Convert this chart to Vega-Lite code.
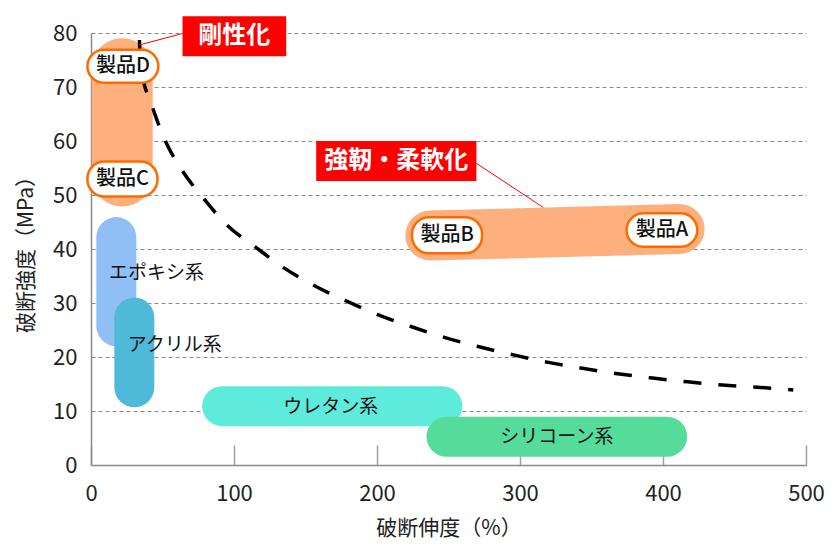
{
  "$schema": "https://vega.github.io/schema/vega-lite/v6.json",
  "width": 715,
  "height": 432,
  "autosize": {"type": "none"},
  "padding": {"left": 91, "top": 33, "right": 34, "bottom": 95},
  "background": "white",
  "config": {
    "view": {"stroke": null},
    "font": "Noto Sans CJK JP",
    "axis": {"labelFont": "Noto Sans CJK JP", "titleFont": "Noto Sans CJK JP"}
  },
  "datasets": {
    "bands": [
      {"name": "エポキシ系", "x": 17.7, "x2": 17.7, "y": 42.2, "y2": 25.7},
      {"name": "アクリル系", "x": 30.3, "x2": 30.3, "y": 27.3, "y2": 14.4},
      {"name": "ウレタン系", "x": 91.7, "x2": 245.7, "y": 10.9, "y2": 10.9},
      {"name": "シリコーン系", "x": 248.6, "x2": 402.9, "y": 5.24, "y2": 5.24},
      {"name": "製品C-D", "x": 21.8, "x2": 21.8, "y": 73.4, "y2": 53.5},
      {"name": "製品A-B", "x": 237.3, "x2": 411.6, "y": 42.5, "y2": 43.7}
    ],
    "curve": [
      {"x": 33.9, "y": 78.7}, {"x": 34.0, "y": 77.4}, {"x": 36.5, "y": 71.5},
      {"x": 41.4, "y": 67.6}, {"x": 44.9, "y": 64.8}, {"x": 52.2, "y": 59.9},
      {"x": 64.1, "y": 54.4}, {"x": 78.9, "y": 49.3}, {"x": 95.2, "y": 44.4},
      {"x": 114.8, "y": 40.4}, {"x": 134.9, "y": 36.5}, {"x": 156.3, "y": 33.2},
      {"x": 178.4, "y": 30.4}, {"x": 200.9, "y": 27.8}, {"x": 224.2, "y": 25.6},
      {"x": 247.6, "y": 23.6}, {"x": 271.4, "y": 21.9}, {"x": 295.3, "y": 20.4},
      {"x": 319.8, "y": 19.0}, {"x": 343.7, "y": 17.9}, {"x": 368.2, "y": 16.9},
      {"x": 392.7, "y": 16.1}, {"x": 417.2, "y": 15.4}, {"x": 441.6, "y": 14.8},
      {"x": 466.1, "y": 14.4}, {"x": 491.1, "y": 13.9}
    ],
    "connectors": [
      {"x": 34.0, "y": 77.8, "x2": 64.0, "y2": 79.9},
      {"x": 269.3, "y": 55.9, "x2": 316.2, "y2": 47.7}
    ],
    "callouts": [
      {"label": "剛性化", "x": 64.0, "x2": 136.5, "y": 83.1, "y2": 75.7, "cx": 100.2, "cy": 79.4},
      {"label": "強靭・柔軟化", "x": 157.5, "x2": 269.5, "y": 60.0, "y2": 52.6, "cx": 213.5, "cy": 56.3}
    ],
    "products": [
      {"label": "製品D", "x": -2.5, "x2": 47.1, "y": 76.9, "y2": 70.8, "cx": 22.3, "cy": 73.85},
      {"label": "製品C", "x": -2.5, "x2": 46.5, "y": 56.2, "y2": 49.7, "cx": 22.0, "cy": 52.95},
      {"label": "製品B", "x": 224.5, "x2": 273.5, "y": 45.9, "y2": 39.2, "cx": 249.0, "cy": 42.55},
      {"label": "製品A", "x": 374.5, "x2": 424.0, "y": 46.6, "y2": 40.4, "cx": 399.2, "cy": 43.5}
    ],
    "groups": [
      {"label": "エポキシ系", "x": 45.8, "y": 35.6},
      {"label": "アクリル系", "x": 58.6, "y": 22.2},
      {"label": "ウレタン系", "x": 167.7, "y": 10.8},
      {"label": "シリコーン系", "x": 325.8, "y": 5.24}
    ]
  },
  "encoding": {
    "x": {
      "field": "x", "type": "quantitative",
      "scale": {"domain": [0, 500], "nice": false, "zero": false},
      "axis": {
        "values": [0, 100, 200, 300, 400, 500],
        "title": "破断伸度（%）",
        "grid": false,
        "labelFlush": false,
        "domainColor": "#8a8a8a", "domainWidth": 1.5,
        "tickColor": "#a0a0a0", "tickWidth": 1.5, "tickSize": -20,
        "labelPadding": 38, "labelFontSize": 22, "labelColor": "#222",
        "titleFontSize": 21, "titleFontWeight": "normal", "titleColor": "#222",
        "titlePadding": 13
      }
    },
    "y": {
      "field": "y", "type": "quantitative",
      "scale": {"domain": [0, 80], "nice": false, "zero": false},
      "axis": {
        "values": [0, 10, 20, 30, 40, 50, 60, 70, 80],
        "title": "破断強度（MPa）",
        "grid": true, "gridDash": [4, 3], "gridColor": "#8a8a8a", "gridWidth": 1,
        "ticks": false,
        "labelFlush": false,
        "domainColor": "#8a8a8a", "domainWidth": 1.5,
        "labelPadding": 14, "labelFontSize": 22, "labelColor": "#222",
        "titleFontSize": 21, "titleFontWeight": "normal", "titleColor": "#222",
        "titlePadding": 16
      }
    }
  },
  "layer": [
    {
      "data": {"name": "bands"},
      "transform": [{"filter": "datum.name != '製品C-D' && datum.name != '製品A-B'"}],
      "mark": {"type": "rule", "strokeWidth": 40, "strokeCap": "round"},
      "encoding": {
        "x2": {"field": "x2"}, "y2": {"field": "y2"},
        "color": {
          "field": "name", "type": "nominal", "legend": null,
          "scale": {"domain": ["エポキシ系", "アクリル系", "ウレタン系", "シリコーン系"],
                    "range": ["#8fbff5", "#4fb9d9", "#5eebdb", "#55dc9b"]}
        }
      }
    },
    {
      "data": {"name": "bands"},
      "transform": [{"filter": "datum.name == '製品C-D'"}],
      "mark": {"type": "rule", "strokeWidth": 61, "strokeCap": "round", "color": "#fdb07e"},
      "encoding": {"x2": {"field": "x2"}, "y2": {"field": "y2"}}
    },
    {
      "data": {"name": "bands"},
      "transform": [{"filter": "datum.name == '製品A-B'"}],
      "mark": {"type": "rule", "strokeWidth": 50, "strokeCap": "round", "color": "#fdb07e"},
      "encoding": {"x2": {"field": "x2"}, "y2": {"field": "y2"}}
    },
    {
      "data": {"name": "curve"},
      "mark": {"type": "line", "color": "#000", "strokeWidth": 3.5, "strokeDash": [18, 17], "interpolate": "monotone"},
      "encoding": {}
    },
    {
      "data": {"name": "connectors"},
      "mark": {"type": "rule", "color": "#ff0000", "strokeWidth": 1},
      "encoding": {"x2": {"field": "x2"}, "y2": {"field": "y2"}}
    },
    {
      "data": {"name": "callouts"},
      "mark": {"type": "rect", "color": "#ff0000"},
      "encoding": {"x2": {"field": "x2"}, "y2": {"field": "y2"}}
    },
    {
      "data": {"name": "callouts"},
      "mark": {"type": "text", "color": "#ffffff", "fontSize": 24, "fontWeight": "bold", "align": "center", "baseline": "middle"},
      "encoding": {
        "x": {"field": "cx", "type": "quantitative"},
        "y": {"field": "cy", "type": "quantitative"},
        "text": {"field": "label"}
      }
    },
    {
      "data": {"name": "products"},
      "mark": {"type": "rect", "fill": "#ffffff", "stroke": "#ff6a00", "strokeWidth": 2.5, "cornerRadius": 17},
      "encoding": {"x2": {"field": "x2"}, "y2": {"field": "y2"}}
    },
    {
      "data": {"name": "products"},
      "mark": {"type": "text", "color": "#111", "fontSize": 20, "fontWeight": 500, "align": "center", "baseline": "middle"},
      "encoding": {
        "x": {"field": "cx", "type": "quantitative"},
        "y": {"field": "cy", "type": "quantitative"},
        "text": {"field": "label"}
      }
    },
    {
      "data": {"name": "groups"},
      "mark": {"type": "text", "color": "#111", "fontSize": 19, "align": "center", "baseline": "middle"},
      "encoding": {"text": {"field": "label"}}
    }
  ]
}
